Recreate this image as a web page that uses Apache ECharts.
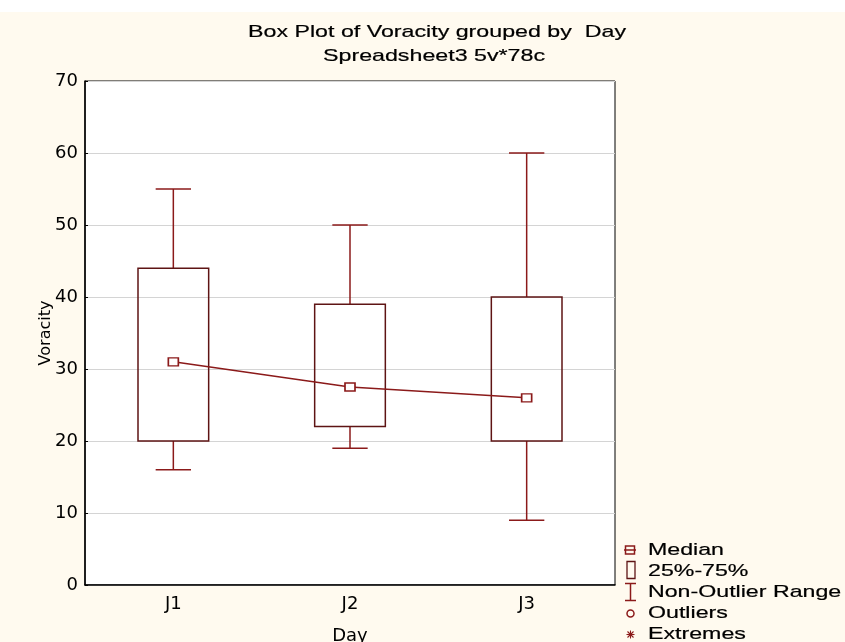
<!DOCTYPE html>
<html><head><meta charset="utf-8">
<script src="https://cdn.jsdelivr.net/npm/echarts@6/dist/echarts.min.js"></script>
<style>html,body{margin:0;padding:0;background:#FFFAEF;}#c{width:845px;height:642px;}</style>
</head><body><div id="c"></div>
<script>
const categories = ['J1', 'J2', 'J3'];
const whiskerLow = [16, 19, 9];
const quartile1 = [20, 22, 20];
const medians = [31, 27.5, 26];
const quartile3 = [44, 39, 40];
const whiskerHigh = [55, 50, 60];
const titleLines = ['Box Plot of Voracity grouped by  Day', 'Spreadsheet3 5v*78c'];
const legendLabels = ['Median', '25%-75%', 'Non-Outlier Range', 'Outliers', 'Extremes'];

const boxData = categories.map((c, i) => [i, whiskerLow[i], quartile1[i], medians[i], quartile3[i], whiskerHigh[i]]);
const dark = '#5e1414';
const red = '#8b1a1a';
const font = '"Liberation Sans", Arial, sans-serif';
const axisFont = '"DejaVu Sans", sans-serif';

// measure text to stretch the condensed-spacing, wide look of the original
const mctx = document.createElement('canvas').getContext('2d');
function widthOf(t, size) { mctx.font = size + 'px ' + font; return mctx.measureText(t).width; }

const g = [];
// white strip along the top edge
g.push({type: 'rect', shape: {x: 0, y: 0, width: 845, height: 12}, style: {fill: '#ffffff'}, z: -1});

const titleTargets = [{w: 378, x: 437, y: 32}, {w: 222, x: 434, y: 56}];
titleLines.forEach((t, i) => {
  const s = titleTargets[i];
  g.push({type: 'text', x: s.x, y: s.y, scaleX: s.w / widthOf(t, 17),
    style: {text: t, font: '17px ' + font, fill: '#000', stroke: '#000', lineWidth: 0.2,
      textAlign: 'center', textVerticalAlign: 'middle'}});
});

const legendY = [550, 571.5, 592.5, 613.5, 634.5];
const legendScale = 76 / widthOf('Median', 17);
legendLabels.forEach((t, i) => {
  g.push({type: 'text', x: 648, y: legendY[i], scaleX: legendScale,
    style: {text: t, font: '17px ' + font, fill: '#000', stroke: '#000', lineWidth: 0.2,
      textAlign: 'left', textVerticalAlign: 'middle'}});
});
// legend icons
g.push({type: 'rect', shape: {x: 625.5, y: legendY[0] - 4, width: 9, height: 8},
  style: {fill: 'none', stroke: red, lineWidth: 1.5}});
g.push({type: 'line', shape: {x1: 624, y1: legendY[0], x2: 636, y2: legendY[0]},
  style: {stroke: red, lineWidth: 1.5}});
g.push({type: 'rect', shape: {x: 627, y: legendY[1] - 10, width: 8, height: 17},
  style: {fill: 'none', stroke: dark, lineWidth: 1.3}});
g.push({type: 'line', shape: {x1: 625, y1: legendY[2] - 9, x2: 636, y2: legendY[2] - 9}, style: {stroke: red, lineWidth: 1.5}});
g.push({type: 'line', shape: {x1: 630.5, y1: legendY[2] - 9, x2: 630.5, y2: legendY[2] + 8}, style: {stroke: red, lineWidth: 1.5}});
g.push({type: 'line', shape: {x1: 625, y1: legendY[2] + 8, x2: 636, y2: legendY[2] + 8}, style: {stroke: red, lineWidth: 1.5}});
g.push({type: 'circle', shape: {cx: 630.5, cy: legendY[3], r: 3.5},
  style: {fill: 'none', stroke: red, lineWidth: 1.5}});
[[0, -4, 0, 4], [-4, 0, 4, 0], [-3, -3, 3, 3], [-3, 3, 3, -3]].forEach(s => {
  g.push({type: 'line', shape: {x1: 630.5 + s[0], y1: legendY[4] + s[1], x2: 630.5 + s[2], y2: legendY[4] + s[3]},
    style: {stroke: red, lineWidth: 1.1}});
});

const chart = echarts.init(document.getElementById('c'));
chart.setOption({
  backgroundColor: '#FFFAEF',
  animation: false,
  grid: {left: 85, right: 230, top: 81, bottom: 57, show: true, backgroundColor: '#fff',
    borderColor: '#000', borderWidth: 1, outerBoundsMode: 'none', containLabel: false},
  xAxis: {type: 'category', data: categories, boundaryGap: true,
    name: 'Day', nameLocation: 'middle', nameGap: 42, nameMoveOverlap: false,
    nameTextStyle: {fontFamily: axisFont, fontSize: 18, color: '#000'},
    axisLine: {lineStyle: {color: '#000', width: 1.5}},
    axisTick: {inside: true, alignWithLabel: true, length: 4, lineStyle: {color: '#000'}},
    axisLabel: {fontFamily: axisFont, fontSize: 18, color: '#000', margin: 10},
    splitLine: {show: false}},
  yAxis: {type: 'value', min: 0, max: 70, interval: 10,
    name: 'Voracity', nameLocation: 'middle', nameGap: 31, nameMoveOverlap: false,
    nameTextStyle: {fontFamily: axisFont, fontSize: 16, color: '#000'},
    axisLine: {show: true, lineStyle: {color: '#000', width: 1.5}},
    axisTick: {show: true, inside: true, length: 3, lineStyle: {color: '#000'}},
    axisLabel: {fontFamily: axisFont, fontSize: 18, color: '#000', margin: 7},
    splitLine: {show: true, lineStyle: {color: '#d4d4d4', width: 1}}},
  graphic: g,
  series: [
    {type: 'custom', data: boxData, encode: {x: 0, y: [1, 2, 3, 4, 5]},
      renderItem: function (params, api) {
        const i = api.value(0);
        const band = api.size([1, 0])[0];
        const bw = band * 0.4, cw = band * 0.2;
        const pLow = api.coord([i, api.value(1)]);
        const pQ1 = api.coord([i, api.value(2)]);
        const pQ3 = api.coord([i, api.value(4)]);
        const pHigh = api.coord([i, api.value(5)]);
        const x = pLow[0];
        const ws = {stroke: red, lineWidth: 1.5};
        return {type: 'group', children: [
          {type: 'line', shape: {x1: x, y1: pHigh[1], x2: x, y2: pQ3[1]}, style: ws},
          {type: 'line', shape: {x1: x - cw / 2, y1: pHigh[1], x2: x + cw / 2, y2: pHigh[1]}, style: ws},
          {type: 'line', shape: {x1: x, y1: pLow[1], x2: x, y2: pQ1[1]}, style: ws},
          {type: 'line', shape: {x1: x - cw / 2, y1: pLow[1], x2: x + cw / 2, y2: pLow[1]}, style: ws},
          {type: 'rect', shape: {x: x - bw / 2, y: pQ3[1], width: bw, height: pQ1[1] - pQ3[1]},
            style: {fill: 'none', stroke: dark, lineWidth: 1.5}}
        ]};
      }},
    {type: 'line', data: medians, symbol: 'rect', symbolSize: [10, 8], showSymbol: true,
      lineStyle: {color: red, width: 1.5},
      itemStyle: {color: '#fff', borderColor: red, borderWidth: 1.5}, z: 5}
  ]
});
</script></body></html>
